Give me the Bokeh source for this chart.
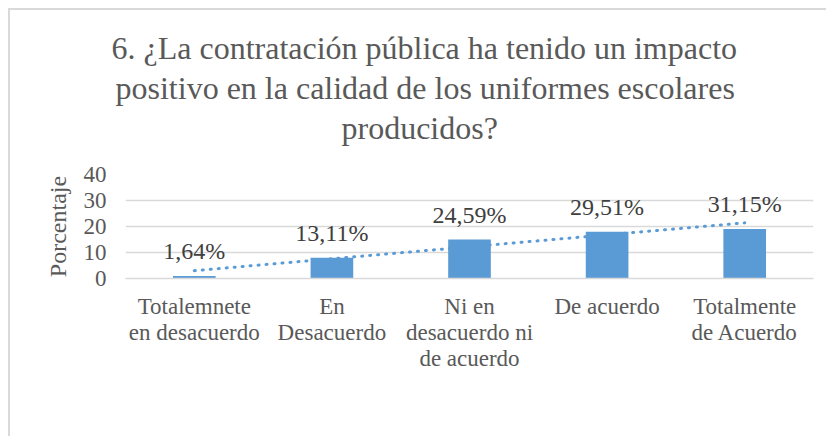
import numpy as np
from bokeh.plotting import figure
from bokeh.models import ColumnDataSource, Range1d, FixedTicker, LabelSet, Title
from bokeh.embed import file_html
from bokeh.resources import INLINE
from bokeh.core.properties import value

category_labels = ["Totalemnete\nen desacuerdo", "En\nDesacuerdo",
                   "Ni en\ndesacuerdo ni\nde acuerdo", "De acuerdo", "Totalmente\nde Acuerdo"]
counts = [1, 8, 15, 18, 19]
percent_labels = ["1,64%", "13,11%", "24,59%", "29,51%", "31,15%"]
y_ticks = [0, 10, 20, 30, 40]
title_lines = ["6. ¿La contratación pública ha tenido un impacto",
               "positivo en la calidad de los uniformes escolares",
               "producidos?"]

FONT = "Liberation Serif"
GREY = "#595959"
BLUE = "#5B9BD5"
FS = "23px"

# linear trend line (as Excel computes it)
xs = np.arange(1, len(counts) + 1)
slope, intercept = np.polyfit(xs, counts, 1)
trend = [slope * xs[0] + intercept, slope * xs[-1] + intercept]

p = figure(x_range=category_labels, y_range=Range1d(0, 40),
           width=818, height=428, output_backend="svg", toolbar_location=None,
           min_border_left=115, min_border_right=15,
           min_border_top=164, min_border_bottom=160, title=None)
p.styles = {"margin-left": "8px", "margin-top": "8px",
            "border-top": "2px solid #d9d9d9", "border-left": "2px solid #d9d9d9"}
p.outline_line_color = None

# spacer between the plot area and the title block
p.add_layout(Title(text=" ", text_font_size="1px", standoff=25), "above")

# title lines, nearest the frame first; offsets place each line centred on the chart
title_offsets = [-14, -10, 216]
for i in [2, 1, 0]:
    p.add_layout(Title(text=title_lines[i], align="left", offset=title_offsets[i],
                       standoff=2, text_font=FONT,
                       text_font_size="32px", text_font_style="normal",
                       text_color=GREY), "above")

src = ColumnDataSource(dict(cat=category_labels, val=counts, lab=percent_labels))
p.vbar(x="cat", top="val", width=0.31, source=src, color=BLUE, line_color=None)

p.line(x=[category_labels[0], category_labels[-1]], y=trend, line_color=BLUE,
       line_width=3, line_dash="1 7", line_cap="round")

labels = LabelSet(x="cat", y="val", text="lab", source=src, text_align="center",
                  text_baseline="alphabetic", y_offset=17,
                  text_font=value(FONT), text_font_size="24px", text_color="#404040")
p.add_layout(labels)

p.xgrid.grid_line_color = None
p.ygrid.grid_line_color = "#d9d9d9"
p.ygrid.grid_line_width = 1.3

p.yaxis.ticker = FixedTicker(ticks=y_ticks)
p.yaxis.axis_line_color = None
p.yaxis.major_tick_line_color = None
p.yaxis.minor_tick_line_color = None
p.yaxis.major_label_text_font = FONT
p.yaxis.major_label_text_font_size = FS
p.yaxis.major_label_text_color = GREY
p.yaxis.major_label_standoff = 13
p.yaxis.axis_label = "Porcentaje"
p.yaxis.axis_label_text_font = FONT
p.yaxis.axis_label_text_font_size = "24px"
p.yaxis.axis_label_text_font_style = "normal"
p.yaxis.axis_label_text_color = GREY
p.yaxis.axis_label_standoff = 10

p.xaxis.axis_line_color = "#d9d9d9"
p.xaxis.axis_line_width = 1.3
p.xaxis.major_tick_line_color = None
p.xaxis.minor_tick_line_color = None
p.xaxis.major_label_text_font = FONT
p.xaxis.major_label_text_font_size = FS
p.xaxis.major_label_text_line_height = 1.05
p.xaxis.major_label_text_color = GREY
p.xaxis.major_label_standoff = 9

open("out.html", "w").write(file_html(p, INLINE))
